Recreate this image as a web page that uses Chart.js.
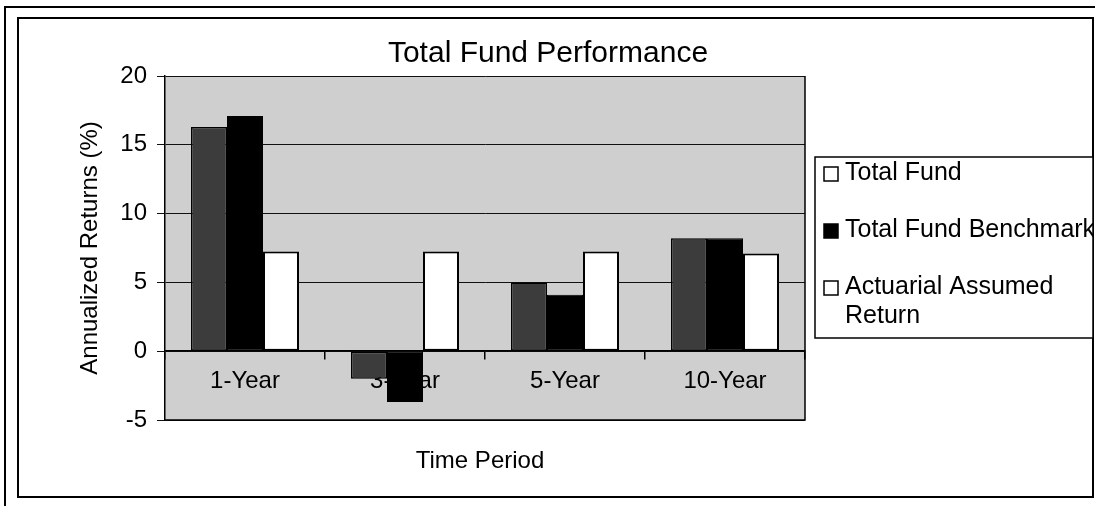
<!DOCTYPE html>
<html><head><meta charset="utf-8">
<script src="https://cdn.jsdelivr.net/npm/chart.js@4.4.1/dist/chart.umd.min.js"></script>
<style>html,body{margin:0;padding:0;background:#fff;overflow:hidden}canvas{display:block}</style>
</head><body>
<canvas id="c" width="1095" height="506"></canvas>
<script>
// ---- data ----
const categories = ['1-Year', '3-Year', '5-Year', '10-Year'];
const totalFund = [16.3, -2.0, 5.0, 8.2];
const benchmark = [17.1, -3.7, 4.1, 8.2];
const actuarial = [7.25, 7.25, 7.25, 7.1];
const seriesLabels = ['Total Fund', 'Total Fund Benchmark', 'Actuarial Assumed Return'];
const yTicks = [-5, 0, 5, 10, 15, 20];
const chartTitle = 'Total Fund Performance';
const xTitle = 'Time Period';
const yTitle = 'Annualized Returns (%)';

// ---- styles ----
const FONT = '"Liberation Sans", Arial, Helvetica, sans-serif';
const PLOT_BG = '#cfcfcf';

const decorPlugin = {
  id: 'decor',
  beforeDraw(chart) {
    const ctx = chart.ctx, W = chart.width, H = chart.height, a = chart.chartArea;
    ctx.save();
    ctx.fillStyle = '#fff';
    ctx.fillRect(0, 0, W, H);
    ctx.strokeStyle = '#000';
    // outer frame (top + left)
    ctx.lineWidth = 2;
    ctx.beginPath();
    ctx.moveTo(5, H); ctx.lineTo(5, 7); ctx.lineTo(W, 7);
    ctx.stroke();
    // inner frame
    ctx.lineWidth = 2;
    ctx.strokeRect(18, 18, 1075, 479);
    // plot background
    ctx.fillStyle = PLOT_BG;
    ctx.fillRect(a.left, a.top, a.right - a.left, a.bottom - a.top);
    ctx.restore();
  },
  afterDraw(chart) {
    const ctx = chart.ctx, a = chart.chartArea;
    ctx.save();
    // plot area right edge
    ctx.strokeStyle = '#000';
    ctx.lineWidth = 1.5;
    ctx.beginPath();
    ctx.moveTo(a.right, a.top); ctx.lineTo(a.right, a.bottom); ctx.lineTo(a.left, a.bottom);
    ctx.stroke();
    // chart title
    ctx.fillStyle = '#000';
    ctx.textAlign = 'center';
    ctx.textBaseline = 'alphabetic';
    ctx.font = '30px ' + FONT;
    ctx.fillText(chartTitle, 548, 62);
    // x axis title
    ctx.font = '24px ' + FONT;
    ctx.fillText(xTitle, (a.left + a.right) / 2 - 5, 468);
    // legend
    const lx = 815, ly = 157, lw = 278, lh = 181;
    ctx.fillStyle = '#fff';
    ctx.fillRect(lx, ly, lw, lh);
    ctx.strokeStyle = '#000';
    ctx.lineWidth = 1.5;
    ctx.strokeRect(lx, ly, lw, lh);
    ctx.beginPath();
    ctx.rect(lx, ly, lw, lh);
    ctx.clip();
    ctx.font = '25px ' + FONT;
    ctx.textAlign = 'left';
    let base = ly + 23;
    chart.data.datasets.forEach(ds => {
      // wrap
      const words = ds.label.split(' ');
      const lines = [];
      let cur = '';
      words.forEach(w => {
        const t = cur ? cur + ' ' + w : w;
        if (cur && ctx.measureText(t).width > 262) { lines.push(cur); cur = w; } else cur = t;
      });
      lines.push(cur);
      ctx.fillStyle = ds.legendFill;
      ctx.fillRect(824, base - 13, 14, 14);
      ctx.strokeStyle = '#000';
      ctx.lineWidth = 1.5;
      ctx.strokeRect(824, base - 13, 14, 14);
      ctx.fillStyle = '#000';
      lines.forEach((ln, i) => ctx.fillText(ln, 845, base + i * 29));
      base += 57;
    });
    ctx.restore();
  }
};

new Chart(document.getElementById('c'), {
  type: 'bar',
  data: {
    labels: categories,
    datasets: [
      { label: seriesLabels[0], data: totalFund, backgroundColor: '#3c3c3c', borderColor: '#000', borderWidth: 1.5, borderSkipped: false, legendFill: '#fff' },
      { label: seriesLabels[1], data: benchmark, backgroundColor: '#000', borderColor: '#000', borderWidth: 1, borderSkipped: false, legendFill: '#000' },
      { label: seriesLabels[2], data: actuarial, backgroundColor: '#fff', borderColor: '#000', borderWidth: 2, borderSkipped: false, legendFill: '#fff' }
    ]
  },
  options: {
    responsive: false,
    animation: false,
    devicePixelRatio: 1,
    categoryPercentage: 0.675,
    barPercentage: 1.0,
    layout: { padding: { left: 60, right: 290, top: 76, bottom: 86 } },
    plugins: {
      legend: { display: false },
      title: { display: false },
      tooltip: { enabled: false }
    },
    scales: {
      x: {
        type: 'category',
        position: { y: 0 },
        grid: { display: true, drawOnChartArea: false, drawTicks: true, tickLength: 8, color: '#000', lineWidth: 1.5, offset: true },
        border: { display: true, color: '#000', width: 1.5 },
        ticks: { color: '#000', font: { family: FONT, size: 24 }, padding: 8, maxRotation: 0, autoSkip: false }
      },
      y: {
        position: 'left',
        min: yTicks[0],
        max: yTicks[yTicks.length - 1],
        afterBuildTicks: s => { s.ticks = yTicks.map(v => ({ value: v })); },
        afterFit: s => { s.width = 105; },
        grid: { color: '#111', lineWidth: 1, drawTicks: true, tickLength: 8 },
        border: { display: true, color: '#000', width: 1.5 },
        ticks: { color: '#000', font: { family: FONT, size: 24 }, padding: 10 },
        title: { display: true, text: yTitle, color: '#000', font: { family: FONT, size: 24 }, padding: { top: 16, bottom: 0 } }
      }
    }
  },
  plugins: [decorPlugin]
});
</script>
</body></html>
